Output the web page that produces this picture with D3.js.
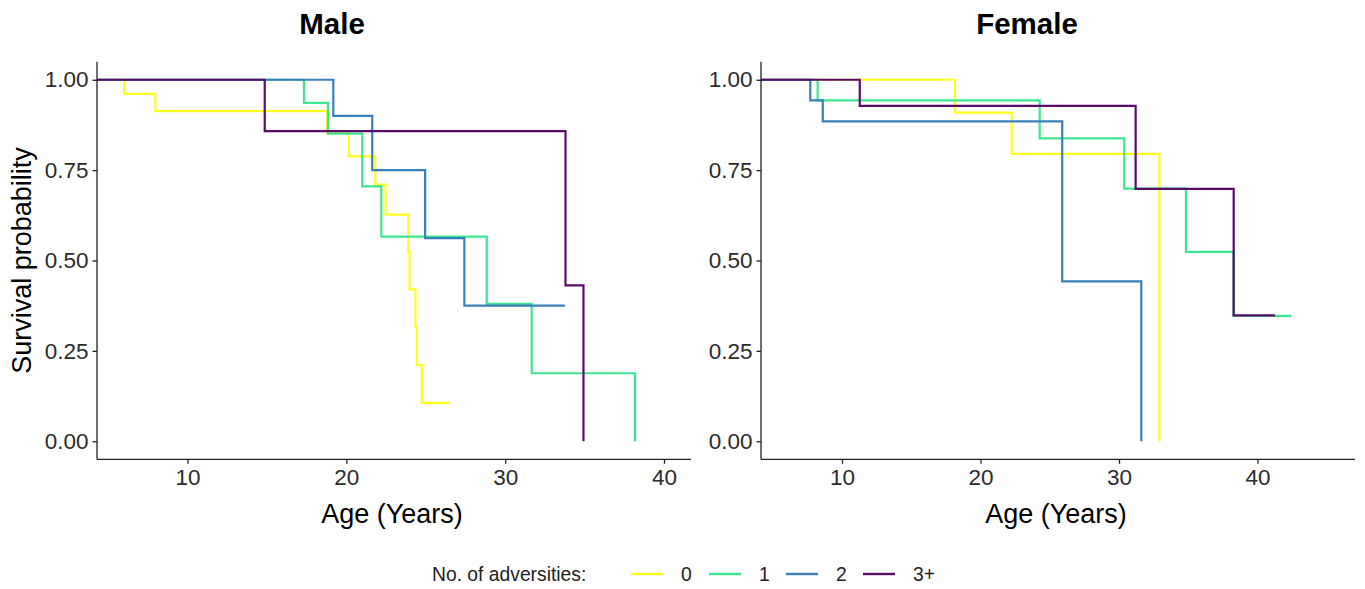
<!DOCTYPE html>
<html>
<head>
<meta charset="utf-8">
<script src="https://cdn.jsdelivr.net/npm/d3@7"></script>
<style>
  html, body { margin: 0; padding: 0; background: #fff; }
  svg { display: block; font-family: "Liberation Sans", Arial, sans-serif; }
</style>
</head>
<body>
<svg id="chart" width="1365" height="589"></svg>
<script>
// ---------- data ----------
const groups = ["0", "1", "2", "3+"];
const groupColors = ["#FFFF1E", "#3DE690", "#3A80B8", "#5B0A6C"];
const yTicks = [0, 0.25, 0.5, 0.75, 1];
const xTicks = [10, 20, 30, 40];

// Male panel (time in years, survival probability)
const maleTime0 = [0, 6.02, 7.97, 18.78, 20.16, 21.82, 22.47, 23.90, 23.98, 24.35, 24.44, 24.75, 26.49];
const maleSurv0 = [1, 0.961, 0.913, 0.852, 0.788, 0.710, 0.627, 0.524, 0.420, 0.315, 0.211, 0.106, 0.106];
const maleTime1 = [0, 17.33, 18.84, 21.0, 22.2, 28.84, 31.67, 38.18];
const maleSurv1 = [1, 0.936, 0.851, 0.705, 0.566, 0.380, 0.188, 0];
const maleTime2 = [0, 19.18, 21.63, 24.96, 27.43, 33.76];
const maleSurv2 = [1, 0.900, 0.750, 0.562, 0.375, 0.375];
const maleTime3 = [0, 14.86, 33.80, 34.93];
const maleSurv3 = [1, 0.858, 0.431, 0];

// Female panel
const femaleTime0 = [0, 18.16, 22.25, 32.91];
const femaleSurv0 = [1, 0.909, 0.795, 0];
const femaleTime1 = [0, 8.24, 24.27, 30.38, 34.83, 38.26, 42.42];
const femaleSurv1 = [1, 0.943, 0.838, 0.699, 0.524, 0.347, 0.347];
const femaleTime2 = [0, 7.71, 8.61, 25.90, 31.61];
const femaleSurv2 = [1, 0.943, 0.885, 0.442, 0];
const femaleTime3 = [0, 11.28, 31.20, 38.28, 41.26];
const femaleSurv3 = [1, 0.928, 0.698, 0.348, 0.348];

const panels = [
  { title: "Male", times: [maleTime0, maleTime1, maleTime2, maleTime3],
    survs: [maleSurv0, maleSurv1, maleSurv2, maleSurv3],
    left: 97, right: 691, xDomain: [4.3, 41.7], titleX: 332, showYTitle: true },
  { title: "Female", times: [femaleTime0, femaleTime1, femaleTime2, femaleTime3],
    survs: [femaleSurv0, femaleSurv1, femaleSurv2, femaleSurv3],
    left: 761, right: 1355, xDomain: [4.15, 47.04], titleX: 1027, showYTitle: false }
];

// ---------- drawing ----------
const svg = d3.select("#chart");
const plotTop = 61.7, plotBottom = 459.3;
const axisColor = "#222";
const tickTextColor = "#2b2b2b";
const defs = svg.append("defs");

panels.forEach((p, pi) => {
  const x = d3.scaleLinear().domain(p.xDomain).range([p.left, p.right]);
  const y = d3.scaleLinear().domain([-0.05, 1.05]).range([plotBottom, plotTop]);
  const g = svg.append("g");

  const clipId = "clip" + pi;
  defs.append("clipPath").attr("id", clipId)
    .append("rect").attr("x", p.left).attr("y", plotTop)
    .attr("width", p.right - p.left).attr("height", plotBottom - plotTop);

  const line = d3.line().curve(d3.curveStepAfter)
    .x(d => x(d[0])).y(d => y(d[1]));

  const curves = g.append("g").attr("clip-path", `url(#${clipId})`);
  groups.forEach((grp, i) => {
    const pts = p.times[i].map((t, j) => [t, p.survs[i][j]]);
    curves.append("path").datum(pts)
      .attr("d", line)
      .attr("fill", "none")
      .attr("stroke", groupColors[i])
      .attr("stroke-width", 2.2)
      .attr("stroke-linejoin", "miter");
  });

  // axes
  const xAxis = d3.axisBottom(x).tickValues(xTicks).tickSize(4.5).tickPadding(5).tickFormat(d3.format("d"));
  const yAxis = d3.axisLeft(y).tickValues(yTicks).tickSize(4.5).tickPadding(4).tickFormat(d3.format(".2f"));

  const gx = g.append("g").attr("transform", `translate(0,${plotBottom})`).call(xAxis);
  const gy = g.append("g").attr("transform", `translate(${p.left},0)`).call(yAxis);
  [gx, gy].forEach(ax => {
    ax.select(".domain").attr("stroke", axisColor).attr("stroke-width", 1.3);
    ax.selectAll(".tick line").attr("stroke", axisColor).attr("stroke-width", 1.3);
    ax.selectAll(".tick text").attr("fill", tickTextColor)
      .style("font-size", "22.5px").style("font-family", "'Liberation Sans', Arial, sans-serif");
  });
  gx.select(".domain").attr("d", `M${p.left},0H${p.right}`);
  gy.select(".domain").attr("d", `M0,${plotBottom}V${plotTop}`);

  // titles
  g.append("text").attr("x", p.titleX).attr("y", 34)
    .attr("text-anchor", "middle").style("font-size", "29.5px").style("font-weight", "bold")
    .attr("fill", "#000").text(p.title);

  g.append("text").attr("x", (p.left + p.right) / 2 - 2).attr("y", 523)
    .attr("text-anchor", "middle").style("font-size", "27px")
    .attr("fill", "#000").text("Age (Years)");

  if (p.showYTitle) {
    g.append("text")
      .attr("transform", `translate(31,${(plotTop + plotBottom) / 2}) rotate(-90)`)
      .attr("text-anchor", "middle").style("font-size", "27px")
      .attr("fill", "#000").text("Survival probability");
  }
});

// legend
const legend = svg.append("g");
const legendY = 574;
legend.append("text").attr("x", 432).attr("y", legendY + 7)
  .style("font-size", "19.3px").attr("fill", "#222").text("No. of adversities:");
const swatchX = [631, 709, 786, 863];
groups.forEach((grp, i) => {
  legend.append("line")
    .attr("x1", swatchX[i]).attr("x2", swatchX[i] + 32)
    .attr("y1", legendY).attr("y2", legendY)
    .attr("stroke", groupColors[i]).attr("stroke-width", 2.4);
  legend.append("text").attr("x", swatchX[i] + 50).attr("y", legendY + 7)
    .style("font-size", "19.3px").attr("fill", "#222").text(grp);
});
</script>
</body>
</html>
